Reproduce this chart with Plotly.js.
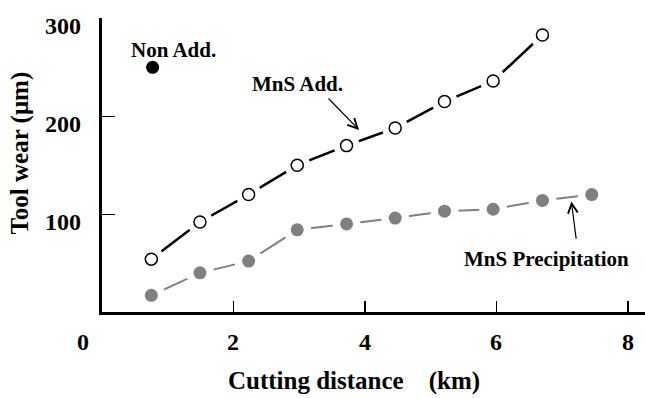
<!DOCTYPE html>
<html>
<head>
<meta charset="utf-8">
<script src="https://cdn.plot.ly/plotly-3.0.1.min.js"></script>
<style>html,body{margin:0;padding:0;background:#fff;}#chart{width:645px;height:398px;}</style>
</head>
<body>
<div id="chart"></div>
<script>
// Data
const distance = [0.75, 1.49, 2.23, 2.97, 3.72, 4.46, 5.21, 5.95, 6.70, 7.45];
const mnsAdd = [54, 92, 120, 150, 170, 188, 215, 236, 283];
const mnsPrecip = [17, 40, 52, 84, 90, 96, 103, 105, 114, 120];
const nonAddX = [0.77];
const nonAddY = [250];
const xTicks = [2, 4, 6, 8];
const yTicks = [100, 200, 300];

const FONT = 'Liberation Serif, Times New Roman, serif';
const addX = distance.slice(0, mnsAdd.length);
const B = (s) => '<b>' + s + '</b>';
const f = (s) => ({family: FONT, size: s, color: '#000'});

const traces = [
  {x: distance, y: mnsPrecip, mode: 'lines', line: {color: '#808080', width: 2}, hoverinfo: 'skip'},
  {x: addX, y: mnsAdd, mode: 'lines', line: {color: '#000', width: 2.5}, hoverinfo: 'skip'},
  {x: distance, y: mnsPrecip, mode: 'markers', marker: {color: '#fff', size: 28}, hoverinfo: 'skip'},
  {x: addX, y: mnsAdd, mode: 'markers', marker: {color: '#fff', size: 26}, hoverinfo: 'skip'},
  {x: distance, y: mnsPrecip, mode: 'markers', name: 'MnS Precipitation',
   marker: {color: '#808080', size: 13, line: {width: 0}}},
  {x: addX, y: mnsAdd, mode: 'markers', name: 'MnS Add.',
   marker: {color: '#fff', size: 12, line: {color: '#000', width: 1.5}}},
  {x: nonAddX, y: nonAddY, mode: 'markers', name: 'Non Add.',
   marker: {color: '#000', size: 13}}
];

const annotations = [];
// x tick labels (plus the origin "0" set left of the corner)
xTicks.forEach(v => annotations.push({x: v, xref: 'x', yref: 'paper', y: -0.102,
  text: B(String(v)), showarrow: false, font: f(24), xanchor: 'center', yanchor: 'middle'}));
annotations.push({xref: 'paper', yref: 'paper', x: -0.035, y: -0.102, text: B('0'),
  showarrow: false, font: f(24), xanchor: 'center', yanchor: 'middle'});
// y tick labels
yTicks.forEach(v => annotations.push({xref: 'paper', x: -0.035, y: v, yref: 'y', yshift: -8,
  text: B(String(v)), showarrow: false, font: f(24), xanchor: 'right', yanchor: 'middle'}));
// axis titles
annotations.push({xref: 'paper', yref: 'paper', x: 0.465, y: -0.236,
  text: B('Cutting distance\u00a0\u00a0\u00a0\u00a0(km)'), showarrow: false,
  font: f(25), xanchor: 'center', yanchor: 'middle'});
annotations.push({xref: 'paper', yref: 'paper', x: -0.151, y: 0.539, text: B('Tool wear (μm)'),
  textangle: -90, showarrow: false, font: f(25), xanchor: 'center', yanchor: 'middle'});
// series labels and arrows
annotations.push({x: 1.08, y: 268, text: B('Non Add.'), showarrow: false, font: f(21)});
annotations.push({x: 2.98, y: 233, text: B('MnS Add.'), showarrow: false, font: f(21)});
annotations.push({x: 6.76, y: 54, text: B('MnS Precipitation'), showarrow: false, font: f(21)});
annotations.push({x: 3.91, y: 186, ax: -32, ay: -33, text: '', showarrow: true,
  arrowhead: 5, arrowsize: 1.6, arrowwidth: 1.2, arrowcolor: '#000', standoff: 0});
annotations.push({x: 7.14, y: 113, ax: 5, ay: 39, text: '', showarrow: true,
  arrowhead: 5, arrowsize: 1.6, arrowwidth: 1.2, arrowcolor: '#000', standoff: 0});

const layout = {
  width: 645, height: 398,
  margin: {l: 102, r: 0, t: 18, b: 86},
  paper_bgcolor: '#fff', plot_bgcolor: '#fff',
  showlegend: false,
  xaxis: {
    range: [0, 8.26], tickvals: xTicks, showticklabels: false,
    ticks: 'inside', ticklen: 11, tickwidth: 1.2, tickcolor: '#000',
    showline: true, linewidth: 3, linecolor: '#000',
    showgrid: false, zeroline: false
  },
  yaxis: {
    range: [0, 300.4], tickvals: yTicks, showticklabels: false,
    ticks: 'inside', ticklen: 13, tickwidth: 1.2, tickcolor: '#000',
    showline: true, linewidth: 3, linecolor: '#000',
    showgrid: false, zeroline: false
  },
  annotations: annotations
};

Plotly.newPlot('chart', traces, layout, {displayModeBar: false, staticPlot: true});
</script>
</body>
</html>
